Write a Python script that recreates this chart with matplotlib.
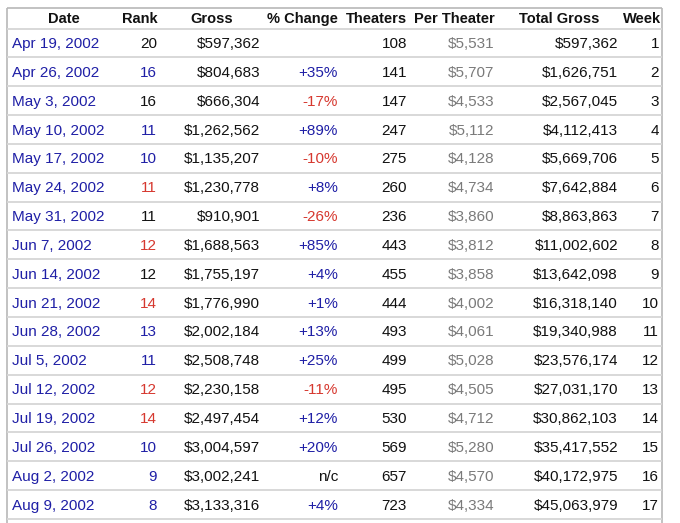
import matplotlib.pyplot as plt

dates = ["Apr 19, 2002", "Apr 26, 2002", "May 3, 2002", "May 10, 2002", "May 17, 2002",
         "May 24, 2002", "May 31, 2002", "Jun 7, 2002", "Jun 14, 2002", "Jun 21, 2002",
         "Jun 28, 2002", "Jul 5, 2002", "Jul 12, 2002", "Jul 19, 2002", "Jul 26, 2002",
         "Aug 2, 2002", "Aug 9, 2002"]
ranks = [20, 16, 16, 11, 10, 11, 11, 12, 12, 14, 13, 11, 12, 14, 10, 9, 8]
gross = [597362, 804683, 666304, 1262562, 1135207, 1230778, 910901, 1688563, 1755197,
         1776990, 2002184, 2508748, 2230158, 2497454, 3004597, 3002241, 3133316]
pct_change = [None, 35, -17, 89, -10, 8, -26, 85, 4, 1, 13, 25, -11, 12, 20, "n/c", 4]
theaters = [108, 141, 147, 247, 275, 260, 236, 443, 455, 444, 493, 499, 495, 530, 569, 657, 723]
per_theater = [5531, 5707, 4533, 5112, 4128, 4734, 3860, 3812, 3858, 4002, 4061, 5028,
               4505, 4712, 5280, 4570, 4334]
total_gross = [597362, 1626751, 2567045, 4112413, 5669706, 7642884, 8863863, 11002602,
               13642098, 16318140, 19340988, 23576174, 27031170, 30862103, 35417552,
               40172975, 45063979]
weeks = list(range(1, 18))
headers = ["Date", "Rank", "Gross", "% Change", "Theaters", "Per Theater", "Total Gross", "Week"]

BLUE = "#1f1fa6"
RED = "#d6382f"
GRAY = "#7a7a7a"
BLACK = "#111111"

plt.rcParams['font.family'] = ['Liberation Sans', 'DejaVu Sans']

fig = plt.figure(figsize=(6.8, 5.23), dpi=100)
ax = fig.add_axes([0, 0, 1, 1])
ax.set_xlim(0, 680)
ax.set_ylim(523, 0)
ax.axis("off")

left, right = 7, 662
top = 8
first_line = 28.5
pitch = 28.85
fs = 11

# header
header_x = [64, 140, 212, 302, 376, 454, 559, 642]
for hx, h in zip(header_x, headers):
    ax.text(hx, 23, h, ha="center", va="baseline", fontsize=10.5, fontweight="bold", color=BLACK)

# borders and row separators
ax.hlines(top, left, right, color="#b8b8b8", lw=1.2)
ax.vlines([left, right], top, 523, color="#b8b8b8", lw=1.2)
ax.hlines([first_line + i * pitch for i in range(len(dates) + 1)], left, right,
          color="#d6d6d6", lw=1.3)

def money(v):
    return "${:,}".format(v)

for i in range(len(dates)):
    y = first_line + i * pitch + 19.5
    ax.text(12, y, dates[i], ha="left", va="baseline", fontsize=fs, color=BLUE)

    if i == 0 or ranks[i] == ranks[i - 1]:
        rc = BLACK
    elif ranks[i] < ranks[i - 1]:
        rc = BLUE
    else:
        rc = RED
    ax.text(157, y, str(ranks[i]), ha="right", va="baseline", fontsize=fs, color=rc)
    ax.text(260, y, money(gross[i]), ha="right", va="baseline", fontsize=fs, color=BLACK)

    p = pct_change[i]
    if p is not None:
        if isinstance(p, str):
            ptxt, pc = p, BLACK
        elif p >= 0:
            ptxt, pc = "+{}%".format(p), BLUE
        else:
            ptxt, pc = "{}%".format(p), RED
        ax.text(338, y, ptxt, ha="right", va="baseline", fontsize=fs, color=pc)

    ax.text(407, y, str(theaters[i]), ha="right", va="baseline", fontsize=fs, color=BLACK)
    ax.text(494, y, money(per_theater[i]), ha="right", va="baseline", fontsize=fs, color=GRAY)
    ax.text(618, y, money(total_gross[i]), ha="right", va="baseline", fontsize=fs, color=BLACK)
    ax.text(659, y, str(weeks[i]), ha="right", va="baseline", fontsize=fs, color=BLACK)

fig.savefig("out.png", dpi=100)
